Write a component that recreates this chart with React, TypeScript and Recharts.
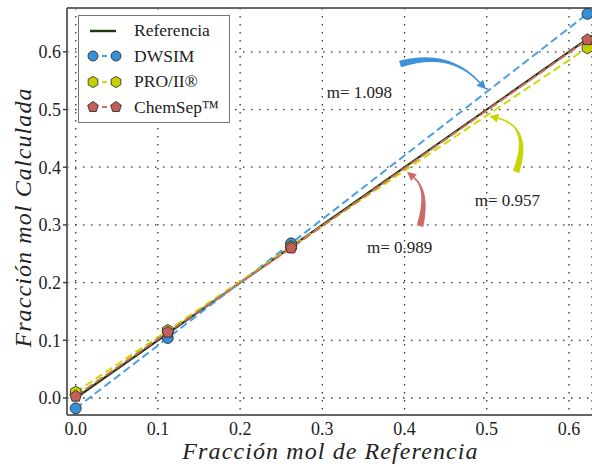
import { LineChart, Line, XAxis, YAxis, CartesianGrid, Legend } from 'recharts';

// ---- data ----
const refX = [0, 0.628];
const refY = [0, 0.628];
const simX = [0, 0.112, 0.262, 0.6225];
const dwsimY = [-0.018, 0.104, 0.268, 0.666];
const proIIY = [0.01, 0.117, 0.262, 0.607];
const chemsepY = [0.003, 0.114, 0.26, 0.621];
const axisTicks = [0, 0.1, 0.2, 0.3, 0.4, 0.5, 0.6];
const slopeLabels = ['m= 1.098', 'm= 0.957', 'm= 0.989'];

// annotation anchors (data coords): [label x, label y], arrow tail / control / head
const labelPos = [
  [0.345, 0.53],
  [0.525, 0.343],
  [0.394, 0.26],
];
const arrowPts = [
  [[0.3945, 0.579], [0.455, 0.604], [0.499, 0.535]],
  [[0.5356, 0.392], [0.555, 0.47], [0.503, 0.489]],
  [[0.4188, 0.298], [0.43, 0.36], [0.403, 0.392]],
];

const W = 592;
const H = 467;
const PLOT = { left: 67, top: 8, right: 592, bottom: 415 };
const xDomain: [number, number] = [-0.0106, 0.628];
const yDomain: [number, number] = [-0.0295, 0.676];
const FONT = "'Liberation Serif', 'Times New Roman', Times, 'DejaVu Serif', 'Noto Serif', serif";

const pts = (xs: number[], ys: number[]) => xs.map((x, i) => ({ x, y: ys[i] }));

const series = [
  { name: 'Referencia', data: pts(refX, refY), line: '#1d3a0c', fill: '', shape: 'none', dash: undefined, width: 2.2 },
  { name: 'DWSIM', data: pts(simX, dwsimY), line: '#4b9fe1', fill: '#3a8ed6', shape: 'circle', dash: '8 4', width: 2 },
  { name: 'PRO/II®', data: pts(simX, proIIY), line: '#c9dc00', fill: '#c3cf00', shape: 'hexagon', dash: '8 4', width: 2 },
  { name: 'ChemSep™', data: pts(simX, chemsepY), line: '#cf6a66', fill: '#c25f5b', shape: 'pentagon', dash: '9 3', width: 2 },
];
const arrowColors = ['#3d92d9', '#c6d600', '#cc6b6b'];

const px = (x: number) => PLOT.left + ((x - xDomain[0]) / (xDomain[1] - xDomain[0])) * (PLOT.right - PLOT.left);
const py = (y: number) => PLOT.bottom - ((y - yDomain[0]) / (yDomain[1] - yDomain[0])) * (PLOT.bottom - PLOT.top);

function polyPoints(cx: number, cy: number, r: number, n: number) {
  const out: string[] = [];
  for (let i = 0; i < n; i++) {
    const a = -Math.PI / 2 + (i * 2 * Math.PI) / n;
    out.push(`${cx + r * Math.cos(a)},${cy + r * Math.sin(a)}`);
  }
  return out.join(' ');
}

function Marker({ shape, cx, cy, fill, r }: { shape: string; cx: number; cy: number; fill: string; r: number }) {
  if (shape === 'none' || cx == null || cy == null) return null;
  const stroke = '#222';
  if (shape === 'circle') return <circle cx={cx} cy={cy} r={r} fill={fill} stroke={stroke} strokeWidth={0.8} />;
  const n = shape === 'hexagon' ? 6 : 5;
  return <polygon points={polyPoints(cx, cy, r + 0.6, n)} fill={fill} stroke={stroke} strokeWidth={0.8} />;
}

function LegendBox() {
  return (
    <div
      style={{
        width: 150,
        height: 104,
        border: '1.5px solid #777',
        background: '#fff',
        paddingTop: 2,
        boxSizing: 'content-box',
        fontFamily: FONT,
        fontSize: 17.5,
        color: '#222',
      }}
    >
      {series.map((s) => (
        <div key={s.name} style={{ height: 25.5, display: 'flex', alignItems: 'center' }}>
          <svg width={52} height={20} style={{ flex: 'none' }}>
            {s.shape === 'none' ? (
              <line x1={11} x2={37} y1={10} y2={10} stroke={s.line} strokeWidth={2.4} />
            ) : (
              <>
                <line x1={14} x2={37} y1={10} y2={10} stroke={s.line} strokeWidth={2} strokeDasharray="5 4" />
                <Marker shape={s.shape} cx={14} cy={10} fill={s.fill} r={5} />
                <Marker shape={s.shape} cx={37} cy={10} fill={s.fill} r={5} />
              </>
            )}
          </svg>
          <span style={{ marginLeft: 3, whiteSpace: 'nowrap' }}>{s.name}</span>
        </div>
      ))}
    </div>
  );
}

function Arrow({ tail, ctrl, head, color }: { tail: number[]; ctrl: number[]; head: number[]; color: string }) {
  const T = [px(tail[0]), py(tail[1])];
  const C = [px(ctrl[0]), py(ctrl[1])];
  const Hd = [px(head[0]), py(head[1])];
  const norm = (a: number[], b: number[]) => {
    const dx = b[0] - a[0];
    const dy = b[1] - a[1];
    const l = Math.hypot(dx, dy) || 1;
    return [dx / l, dy / l];
  };
  const d1 = norm(T, C);
  const d2 = norm(C, Hd);
  const n1 = [-d1[1], d1[0]];
  const n2 = [-d2[1], d2[0]];
  const B = [Hd[0] - d2[0] * 9, Hd[1] - d2[1] * 9];
  const w = 3.4;
  const body = `M ${T[0] + n1[0] * w} ${T[1] + n1[1] * w} Q ${C[0] + n1[0] * 1.8} ${C[1] + n1[1] * 1.8} ${B[0] + n2[0] * 0.8} ${B[1] + n2[1] * 0.8} L ${B[0] - n2[0] * 0.8} ${B[1] - n2[1] * 0.8} Q ${C[0] - n1[0] * 1.8} ${C[1] - n1[1] * 1.8} ${T[0] - n1[0] * w} ${T[1] - n1[1] * w} Z`;
  const headPath = `M ${Hd[0]} ${Hd[1]} L ${B[0] + n2[0] * 4.5} ${B[1] + n2[1] * 4.5} L ${B[0] - n2[0] * 4.5} ${B[1] - n2[1] * 4.5} Z`;
  return (
    <g fill={color}>
      <path d={body} />
      <path d={headPath} />
    </g>
  );
}

export default function App() {
  return (
    <div style={{ position: 'absolute', left: 0, top: 0, width: W, height: H, background: '#fff', fontFamily: FONT }}>
      <LineChart
        width={W}
        height={H}
        margin={{ top: PLOT.top, right: W - PLOT.right, left: 0, bottom: 0 }}
        style={{ fontFamily: FONT }}
      >
        <CartesianGrid stroke="#333" strokeDasharray="1.5 6.5" strokeWidth={1.3} />
        <XAxis
          dataKey="x"
          type="number"
          domain={xDomain}
          ticks={axisTicks}
          tickFormatter={(v: number) => v.toFixed(1)}
          height={H - PLOT.bottom}
          tickSize={0}
          tickMargin={7}
          tick={{ style: { fontFamily: FONT }, fontSize: 18, fill: '#222' }}
          axisLine={{ stroke: '#666', strokeWidth: 2 }}
          allowDataOverflow
          label={{
            content: () => (
              <text x={(PLOT.left + PLOT.right) / 2 + 1} y={459} textAnchor="middle" style={{ fontFamily: FONT }} fontStyle="italic" fontSize={24} letterSpacing={1.1} fill="#222">
                Fracción mol de Referencia
              </text>
            ),
          }}
        />
        <XAxis
          xAxisId="inner"
          type="number"
          domain={xDomain}
          ticks={axisTicks}
          mirror
          tickSize={5}
          tickFormatter={() => ''}
          axisLine={false}
          tickLine={{ stroke: '#444', strokeWidth: 1.5 }}
          allowDataOverflow
        />
        <XAxis
          xAxisId="top"
          orientation="top"
          type="number"
          domain={xDomain}
          ticks={axisTicks}
          mirror
          tickSize={5}
          tickFormatter={() => ''}
          axisLine={{ stroke: '#666', strokeWidth: 2 }}
          tickLine={{ stroke: '#444', strokeWidth: 1.5 }}
          allowDataOverflow
        />
        <YAxis
          type="number"
          domain={yDomain}
          ticks={axisTicks}
          tickFormatter={(v: number) => v.toFixed(1)}
          width={PLOT.left}
          tickSize={4}
          tickMargin={2}
          tick={{ style: { fontFamily: FONT }, fontSize: 18, fill: '#222' }}
          tickLine={{ stroke: '#444', strokeWidth: 1.5 }}
          axisLine={{ stroke: '#666', strokeWidth: 2 }}
          allowDataOverflow
          label={{
            content: () => (
              <text x={0} y={0} transform={`translate(31, ${(PLOT.top + PLOT.bottom) / 2 + 6}) rotate(-90)`} textAnchor="middle" style={{ fontFamily: FONT }} fontStyle="italic" fontSize={24} letterSpacing={1.1} fill="#222">
                Fracción mol Calculada
              </text>
            ),
          }}
        />
        <Legend
          layout="vertical"
          align="center"
          verticalAlign="middle"
          wrapperStyle={{ left: 78, top: 15, width: 154 }}
          content={() => <LegendBox />}
        />
        {series.map((s) => (
          <Line
            key={s.name}
            name={s.name}
            data={s.data}
            dataKey="y"
            type="linear"
            stroke={s.line}
            strokeWidth={s.width}
            strokeDasharray={s.dash}
            isAnimationActive={false}
            activeDot={false}
            dot={(p: any) => <Marker key={`${s.name}-${p.index}`} shape={s.shape} cx={p.cx} cy={p.cy} fill={s.fill} r={5.5} />}
          />
        ))}
      </LineChart>
      <svg width={W} height={H} style={{ position: 'absolute', left: 0, top: 0, pointerEvents: 'none' }}>
        {arrowPts.map((a, i) => (
          <Arrow key={i} tail={a[0]} ctrl={a[1]} head={a[2]} color={arrowColors[i]} />
        ))}
        {slopeLabels.map((t, i) => (
          <text
            key={t}
            x={px(labelPos[i][0])}
            y={py(labelPos[i][1])}
            textAnchor="middle"
            dominantBaseline="central"
            style={{ fontFamily: FONT }}
            fontSize={17}
            fill="#222"
          >
            {t}
          </text>
        ))}
      </svg>
    </div>
  );
}
